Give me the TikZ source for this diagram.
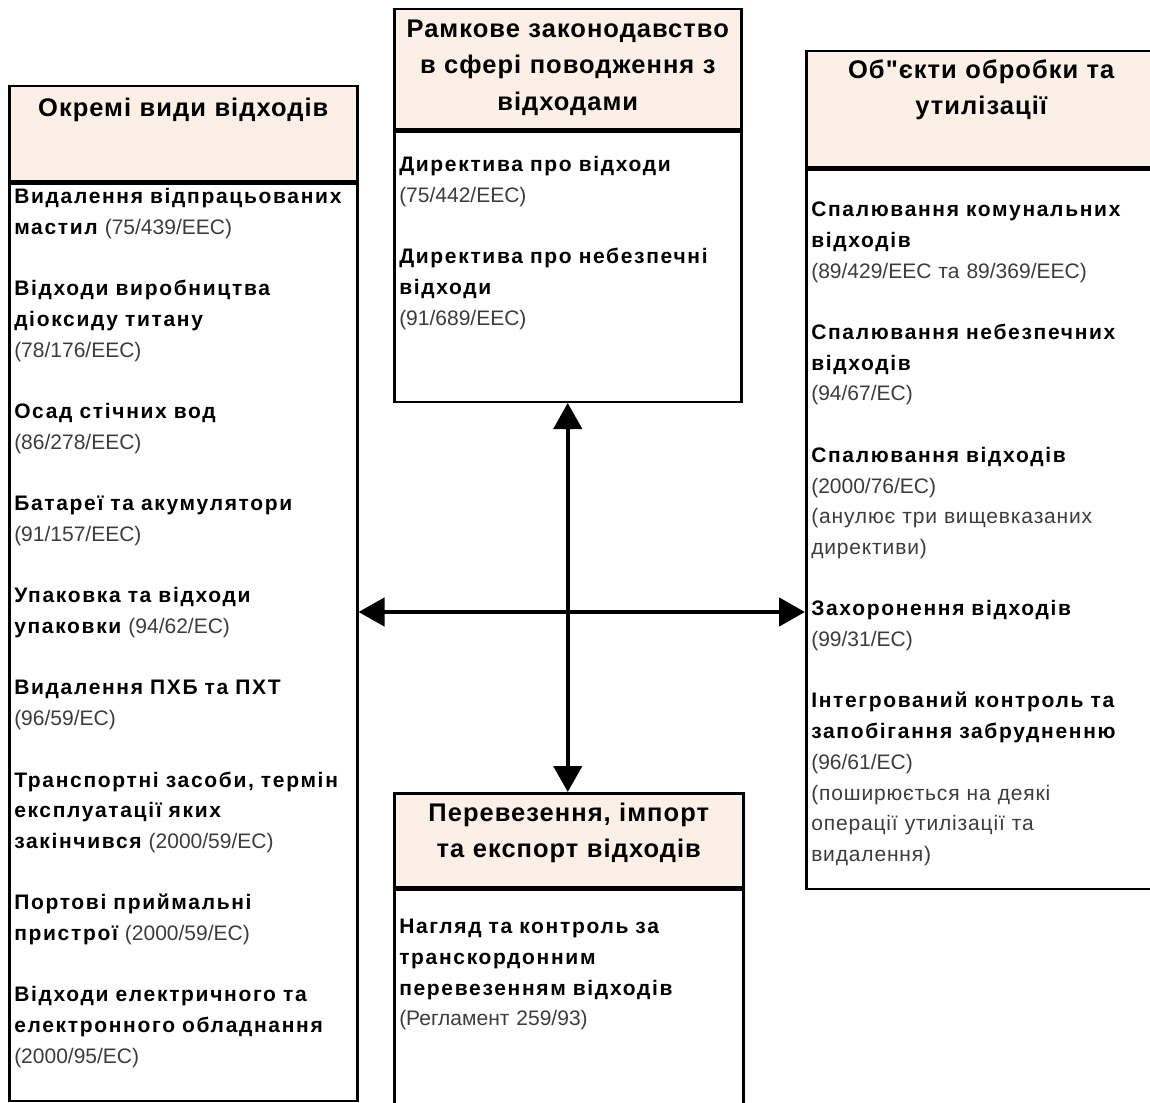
\documentclass[tikz,border=0pt]{standalone}
\usepackage{fontspec}
\setmainfont{Liberation Sans}
\newfontfamily\headfont[LetterSpace=4]{Liberation Sans}
\newfontfamily\itemfont[LetterSpace=8]{Liberation Sans}
\newfontfamily\notefont[LetterSpace=4]{Liberation Sans}
\usetikzlibrary{positioning, arrows.meta}

\definecolor{headfill}{RGB}{251,239,230}
\definecolor{codegray}{RGB}{60,60,60}

\newcommand{\code}[1]{{\normalfont\color{codegray}#1}}
\newcommand{\note}[1]{{\notefont\mdseries\color{codegray}#1}}

\begin{document}
\begin{tikzpicture}[x=1pt, y=1pt,
        head/.style = {draw, line width=2.5pt, fill=headfill, anchor=north west,
            align=center, inner xsep=5pt, inner ysep=0pt,
            font=\fontsize{25.5}{36.5}\selectfont\headfont\bfseries},
        body/.style = {draw, line width=2.5pt, fill=white,
            align=left, inner xsep=5pt, inner ysep=0pt,
            font=\fontsize{21}{30.7}\selectfont\itemfont\bfseries},
        link/.style = {line width=4.5pt,
            {Triangle[length=26pt, width=28pt]}-{Triangle[length=26pt, width=28pt]}}]
    \useasboundingbox (0, 0) rectangle (1150, -1102);

    % headers
    \node[head, text width=338pt, text height=30pt, text depth=65pt] (lhead) at (8, -85) {Окремі види відходів};
    \node[head, text width=337pt, text height=28pt, text depth=92pt] (thead) at (393, -8) {Рамкове законодавство\\ в сфері поводження з\\ відходами};
    \node[head, text width=340pt, text height=27pt, text depth=89pt] (rhead) at (805, -50) {Об"єкти обробки та\\ утилізації};
    \node[head, text width=339pt, text height=28pt, text depth=66pt] (bhead) at (393, -792) {Перевезення, імпорт\\ та експорт відходів};

    % lists
    \node[body, below=0pt of lhead, text width=338pt, text height=20pt, text depth=897pt] (lbody) {%
        Видалення відпрацьованих\\
        мастил \code{(75/439/EEC)}\\[30.7pt]
        Відходи виробництва\\
        діоксиду титану\\
        \code{(78/176/EEC)}\\[30.7pt]
        Осад стічних вод\\
        \code{(86/278/EEC)}\\[30.7pt]
        Батареї та акумулятори\\
        \code{(91/157/EEC)}\\[30.7pt]
        Упаковка та відходи\\
        упаковки \code{(94/62/EC)}\\[30.7pt]
        Видалення ПХБ та ПХТ\\
        \code{(96/59/EC)}\\[30.7pt]
        Транспортні засоби, термін\\
        експлуатації яких\\
        закінчився \code{(2000/59/EC)}\\[30.7pt]
        Портові приймальні\\
        пристрої \code{(2000/59/EC)}\\[30.7pt]
        Відходи електричного та\\
        електронного обладнання\\
        \code{(2000/95/EC)}};
    \node[body, below=0pt of thead, text width=337pt, text height=40pt, text depth=230pt] (tbody) {%
        Директива про відходи\\
        \code{(75/442/EEC)}\\[30.7pt]
        Директива про небезпечні\\
        відходи\\
        \code{(91/689/EEC)}};
    \node[body, below=0pt of rhead, text width=340pt, text height=47pt, text depth=672pt] (rbody) {%
        Спалювання комунальних\\
        відходів\\
        \code{(89/429/EEC та 89/369/EEC)}\\[30.7pt]
        Спалювання небезпечних\\
        відходів\\
        \code{(94/67/EC)}\\[30.7pt]
        Спалювання відходів\\
        \code{(2000/76/EC)}\\
        \note{(анулює три вищевказаних}\\
        \note{директиви)}\\[30.7pt]
        Захоронення відходів\\
        \code{(99/31/EC)}\\[30.7pt]
        Інтегрований контроль та\\
        запобігання забрудненню\\
        \code{(96/61/EC)}\\
        \note{(поширюється на деякі}\\
        \note{операції утилізації та}\\
        \note{видалення)}};
    \node[body, below=0pt of bhead, text width=339pt, text height=44pt, text depth=185pt] (bbody) {%
        Нагляд та контроль за\\
        транскордонним\\
        перевезенням відходів\\
        \code{(Регламент 259/93)}};

    % links
    \coordinate (cross) at (566, -612);
    \draw[link] (tbody.south) -- (tbody.south |- bhead.north);
    \draw[link] (lbody.east |- cross) -- (rbody.west |- cross);
\end{tikzpicture}
\end{document}
